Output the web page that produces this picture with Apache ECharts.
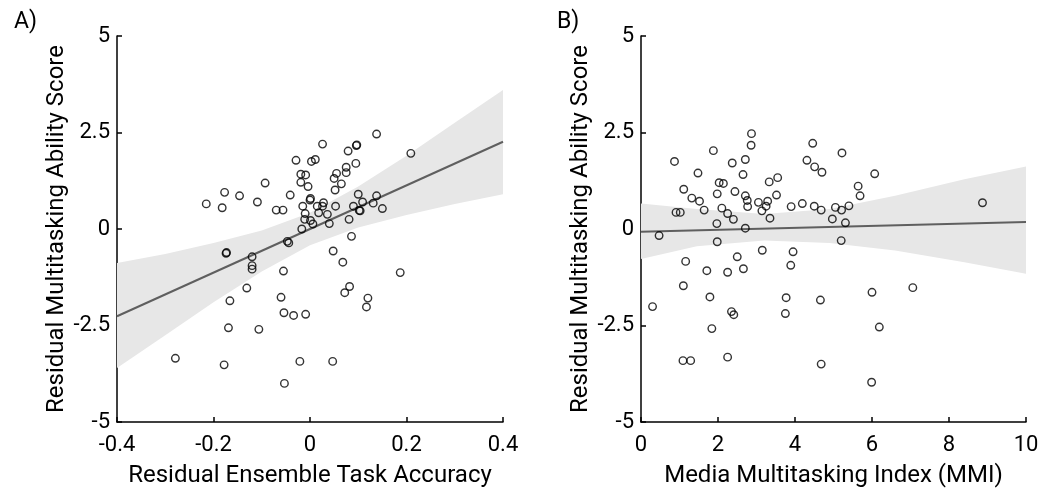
<!DOCTYPE html>
<html>
<head>
<meta charset="utf-8">
<script src="https://cdn.jsdelivr.net/npm/echarts@6/dist/echarts.min.js"></script>
<style>
  html, body { margin: 0; padding: 0; background: #fff; }
  #chart { width: 1045px; height: 494px; }
</style>
</head>
<body>
<div id="chart"></div>
<script>
// panel A: residual ensemble accuracy vs residual multitasking score
var accX = [0.138, 0.026, 0.096, 0.097, 0.079, 0.209, -0.029, 0.003, 0.011, 0.075, 0.095, -0.019, -0.009, 0.055,
  0.075, 0.050, -0.093, -0.019, 0.065, -0.004, 0.052, -0.177, -0.146, -0.041, 0.100, 0.138, 0.001, 0.000,
  -0.215, -0.109, -0.182, -0.015, 0.015, 0.026, 0.028, 0.053, 0.090, 0.109, 0.131, 0.150, -0.070, -0.056,
  0.102, 0.104, -0.010, 0.018, 0.036, -0.011, 0.001, 0.006, 0.040, 0.081, -0.017, 0.086, -0.047, -0.044,
  -0.173, -0.174, 0.048, -0.120, 0.068, -0.120, -0.120, -0.055, 0.187, -0.131, 0.082, 0.072, -0.060, -0.166,
  0.120, 0.117, -0.054, -0.034, -0.009, -0.169, -0.106, -0.279, -0.178, -0.021, 0.047, -0.053];
var accY = [2.46, 2.20, 2.16, 2.18, 2.02, 1.96, 1.78, 1.75, 1.80, 1.60, 1.70, 1.42, 1.40, 1.44,
  1.46, 1.31, 1.19, 1.21, 1.17, 1.10, 1.01, 0.95, 0.86, 0.88, 0.90, 0.86, 0.79, 0.75,
  0.65, 0.70, 0.55, 0.59, 0.59, 0.59, 0.68, 0.59, 0.59, 0.70, 0.67, 0.53, 0.49, 0.49,
  0.48, 0.47, 0.40, 0.42, 0.38, 0.25, 0.22, 0.13, 0.14, 0.25, 0.00, -0.19, -0.32, -0.36,
  -0.61, -0.63, -0.57, -0.72, -0.86, -0.95, -1.04, -1.09, -1.13, -1.53, -1.49, -1.65, -1.77, -1.86,
  -1.79, -2.02, -2.17, -2.24, -2.21, -2.56, -2.60, -3.35, -3.52, -3.43, -3.43, -4.00];
var accFitX = [-0.4, 0.4];
var accFitY = [-2.26, 2.26];
var accBandX = [-0.4, -0.3, -0.2, -0.1, 0, 0.1, 0.2, 0.3, 0.4];
var accBandLo = [-3.6, -2.75, -1.9, -1.1, -0.42, 0.04, 0.36, 0.65, 0.9];
var accBandHi = [-0.88, -0.65, -0.36, -0.04, 0.42, 1.1, 1.9, 2.75, 3.6];

// panel B: media multitasking index vs residual multitasking score
var mmiX = [2.87, 4.46, 2.86, 1.88, 5.22, 0.87, 2.37, 2.71, 4.31, 4.51, 4.70, 1.48, 2.65, 6.07, 3.55, 2.03,
  2.14, 3.33, 5.64, 1.11, 2.44, 1.98, 2.71, 3.52, 5.69, 1.32, 1.52, 2.76, 3.05, 3.29, 4.19, 8.87, 2.10,
  2.77, 3.25, 3.90, 4.50, 5.05, 5.40, 1.64, 3.14, 4.68, 5.21, 0.91, 1.02, 2.25, 3.35, 2.40, 4.97, 1.97,
  5.31, 2.71, 0.47, 1.98, 5.20, 3.15, 3.95, 2.50, 1.16, 3.89, 1.71, 2.25, 2.66, 1.10, 7.06, 6.00, 1.79,
  3.77, 4.66, 0.30, 2.35, 2.41, 3.75, 1.84, 6.19, 1.09, 1.29, 2.25, 4.68, 5.99];
var mmiY = [2.47, 2.22, 2.17, 2.03, 1.97, 1.75, 1.71, 1.80, 1.78, 1.61, 1.47, 1.45, 1.41, 1.43, 1.33, 1.20,
  1.18, 1.22, 1.11, 1.03, 0.97, 0.91, 0.86, 0.88, 0.86, 0.80, 0.72, 0.74, 0.69, 0.72, 0.66, 0.68, 0.54,
  0.58, 0.59, 0.58, 0.59, 0.56, 0.60, 0.49, 0.47, 0.49, 0.49, 0.43, 0.43, 0.40, 0.28, 0.25, 0.26, 0.14,
  0.16, 0.02, -0.17, -0.33, -0.30, -0.55, -0.59, -0.72, -0.84, -0.94, -1.08, -1.12, -1.03, -1.47, -1.52, -1.64, -1.76,
  -1.78, -1.84, -2.01, -2.14, -2.22, -2.19, -2.58, -2.54, -3.41, -3.41, -3.32, -3.50, -3.97];
var mmiFitX = [0, 10];
var mmiFitY = [-0.07, 0.18];
var mmiBandX = [0, 1.45, 3.2, 4.9, 6.6, 8.4, 10];
var mmiBandLo = [-0.78, -0.45, -0.30, -0.36, -0.56, -0.86, -1.16];
var mmiBandHi = [0.66, 0.52, 0.39, 0.52, 0.86, 1.29, 1.62];

var FONT = 'Roboto';
var BAND = '#e7e7e7';

function pairs(xs, ys) {
  return xs.map(function (x, i) { return [x, ys[i]]; });
}

function axisX(idx, min, max, step, name) {
  return {
    type: 'value', gridIndex: idx, min: min, max: max, interval: step,
    name: name, nameLocation: 'middle', nameGap: 42,
    nameTextStyle: { fontFamily: FONT, fontSize: 24, color: '#000' },
    axisLine: { onZero: false, lineStyle: { color: '#000', width: 1.5 } },
    axisTick: { inside: true, length: 5, lineStyle: { color: '#000', width: 1.5 } },
    axisLabel: { fontFamily: FONT, fontSize: 22, color: '#000', margin: 12 },
    splitLine: { show: false }
  };
}

function axisY(idx) {
  return {
    type: 'value', gridIndex: idx, min: -5, max: 5, interval: 2.5,
    name: 'Residual Multitasking Ability Score', nameLocation: 'middle', nameGap: 46, nameRotate: 90,
    nameTextStyle: { fontFamily: FONT, fontSize: 24, color: '#000' },
    axisLine: { onZero: false, lineStyle: { color: '#000', width: 1.5 } },
    axisTick: { inside: true, length: 5, lineStyle: { color: '#000', width: 1.5 } },
    axisLabel: { fontFamily: FONT, fontSize: 22, color: '#000', margin: 7 },
    splitLine: { show: false }
  };
}

// confidence band drawn as one polygon through the coordinate system
function bandSeries(idx, bx, lo, hi) {
  return {
    type: 'custom', xAxisIndex: idx, yAxisIndex: idx, z: 1, silent: true,
    data: [[bx[0], lo[0]]],
    renderItem: function (params, api) {
      var pts = [];
      for (var i = 0; i < bx.length; i++) pts.push(api.coord([bx[i], hi[i]]));
      for (var j = bx.length - 1; j >= 0; j--) pts.push(api.coord([bx[j], lo[j]]));
      return { type: 'polygon', shape: { points: pts }, style: { fill: BAND } };
    }
  };
}

function panelSeries(idx, bx, lo, hi, fx, fy, px, py) {
  return [
    bandSeries(idx, bx, lo, hi),
    {
      type: 'line', xAxisIndex: idx, yAxisIndex: idx, symbol: 'none', silent: true, z: 3,
      lineStyle: { color: '#5f5f5f', width: 2 },
      data: pairs(fx, fy)
    },
    {
      type: 'scatter', xAxisIndex: idx, yAxisIndex: idx, z: 4,
      symbol: 'circle', symbolSize: 7.5,
      itemStyle: { color: 'rgba(255,255,255,0)', borderColor: '#000', borderWidth: 1.4 },
      data: pairs(px, py)
    }
  ];
}

var chart = echarts.init(document.getElementById('chart'));
chart.setOption({
  animation: false,
  backgroundColor: '#fff',
  title: [
    { text: 'A)', left: 9, top: 6, textStyle: { fontFamily: FONT, fontSize: 23, fontWeight: 'normal', color: '#000' } },
    { text: 'B)', left: 552, top: 6, textStyle: { fontFamily: FONT, fontSize: 23, fontWeight: 'normal', color: '#000' } }
  ],
  grid: [
    { left: 117, top: 36, width: 386, height: 386 },
    { left: 641, top: 36, width: 385, height: 386 }
  ],
  xAxis: [
    axisX(0, -0.4, 0.4, 0.2, 'Residual Ensemble Task Accuracy'),
    axisX(1, 0, 10, 2, 'Media Multitasking Index (MMI)')
  ],
  yAxis: [axisY(0), axisY(1)],
  series: panelSeries(0, accBandX, accBandLo, accBandHi, accFitX, accFitY, accX, accY)
    .concat(panelSeries(1, mmiBandX, mmiBandLo, mmiBandHi, mmiFitX, mmiFitY, mmiX, mmiY))
});
</script>
</body>
</html>
